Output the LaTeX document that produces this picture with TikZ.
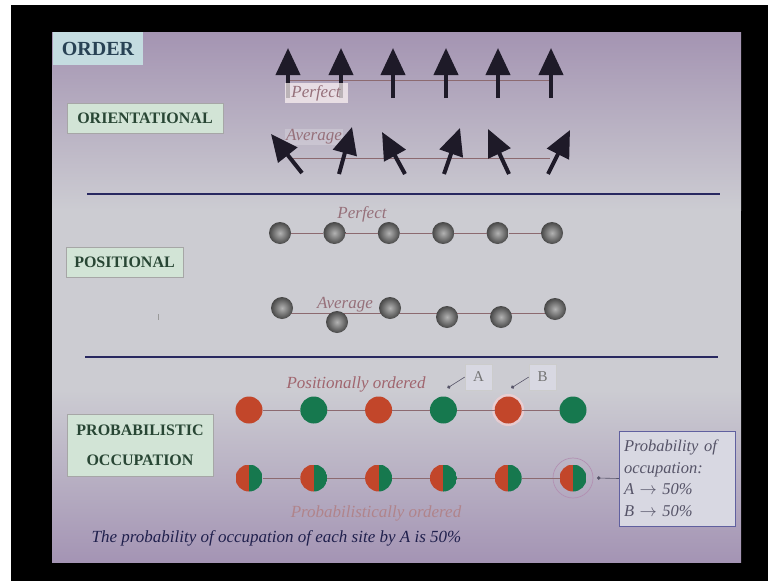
\documentclass[tikz,border=0pt]{standalone}
\usepackage{fontspec}
\setmainfont{Liberation Serif}
\usetikzlibrary{arrows.meta,positioning,calc}
\definecolor{slidetop}{RGB}{164,148,178}
\definecolor{slidemid}{RGB}{204,204,210}
\definecolor{slidebot}{RGB}{164,148,180}
\definecolor{tagfill}{RGB}{210,228,214}
\definecolor{tagtext}{RGB}{40,70,52}
\definecolor{ordfill}{RGB}{196,220,224}
\definecolor{ordtext}{RGB}{40,66,84}
\definecolor{spincol}{RGB}{30,26,40}
\definecolor{bondcol}{RGB}{140,106,112}
\definecolor{rulecol}{RGB}{40,40,96}
\definecolor{labcol}{RGB}{150,112,122}
\definecolor{redA}{RGB}{194,70,42}
\definecolor{greenB}{RGB}{22,120,78}
\definecolor{notecol}{RGB}{86,84,104}
\definecolor{notefill}{RGB}{216,216,226}
\tikzstyle{ordbox} = [rectangle, fill=ordfill, text=ordtext, font=\bfseries\fontsize{20}{24}\selectfont,
    minimum width=90pt, minimum height=33pt, inner sep=0pt]
\tikzstyle{tag} = [rectangle, draw=gray!70, fill=tagfill, text=tagtext, align=center,
    font=\bfseries\fontsize{16}{19}\selectfont, inner sep=0pt]
\tikzstyle{spin} = [draw=spincol, line width=4pt, -{Triangle[length=27pt,width=24pt]}]
\tikzstyle{bond} = [draw=bondcol, line width=0.9pt]
\tikzstyle{rule} = [draw=rulecol, line width=2.6pt]
\tikzstyle{caption} = [font=\itshape\fontsize{17}{20}\selectfont, text=labcol, inner sep=1pt]
\tikzstyle{ball} = [circle, minimum size=22pt, inner sep=0pt, outer sep=0pt,
    shading=radial, inner color=black!30, outer color=black!72]
\tikzstyle{site} = [circle, minimum size=27pt, inner sep=0pt, outer sep=0pt]
\tikzstyle{redsite} = [site, fill=redA]
\tikzstyle{greensite} = [site, fill=greenB]
\tikzstyle{mixsite} = [site, path picture={
    \fill[redA] (path picture bounding box.south west) rectangle (path picture bounding box.north);
    \fill[greenB] (path picture bounding box.south) rectangle (path picture bounding box.north east);}]
\tikzstyle{letter} = [rectangle, draw=gray!40, fill=notefill, text=gray!90!black,
    font=\fontsize{15}{18}\selectfont, minimum width=27pt, minimum height=26pt, inner sep=0pt]
\tikzstyle{leader} = [draw=notecol, line width=0.6pt]
\tikzstyle{note} = [rectangle, draw=gray!75!blue, fill=notefill, text=notecol, align=left,
    font=\itshape\fontsize{16.5}{21.5}\selectfont, minimum width=116pt, minimum height=95pt,
    text width=106pt, inner sep=0pt]
\begin{document}
\begin{tikzpicture}[x=1pt, y=-1pt]
        % Frame and slide
        \useasboundingbox (0,0) rectangle (768,581);
        \fill[white] (0,0) rectangle (768,581);
        \fill[black] (11,5) rectangle (768,581);
        \shade[top color=slidetop, bottom color=slidemid] (52,32) rectangle (741,210);
        \fill[slidemid] (52,209) rectangle (741,391);
        \shade[top color=slidemid, bottom color=slidebot] (52,390) rectangle (741,562);
        \path [rule] (87,194) -- (720,194);
        \path [rule] (85,357) -- (718,357);
        % Place nodes
        \node [ordbox] (order) at (98,48.5) {ORDER};
        \node [tag, minimum width=156pt, minimum height=30pt] (orient) at (145,118) {ORIENTATIONAL};
        \node [tag, minimum width=117pt, minimum height=30pt] (posit) at (124.5,262) {POSITIONAL};
        \node [tag, minimum width=146pt, minimum height=62pt] (prob) at (140,445) {PROBABILISTIC\\[11pt]OCCUPATION};
        % Orientational order
        \path [bond] (288,80) -- (551,80);
        \path [spin] (288,98) -- (288,48);
        \path [spin] (341,98) -- (341,48);
        \path [spin] (393,98) -- (393,48);
        \path [spin] (446,98) -- (446,48);
        \path [spin] (498,98) -- (498,48);
        \path [spin] (551,98) -- (551,48);
        \node [caption, fill=white!85!pink, fill opacity=0.7, text opacity=1,
            minimum width=63pt, minimum height=20pt] (perfA) at (316,93) {Perfect};
        \path [bond] (293,158) -- (550,158);
        \node [caption, fill=white, fill opacity=0.2, text opacity=1] (avgA) at (314,137) {Average};
        \path [spin] (302,173) -- (271,134);
        \path [spin] (339,174) -- (352,127);
        \path [spin] (405,174) -- (382,132);
        \path [spin] (444,174) -- (460,128);
        \path [spin] (509,174) -- (488,129);
        \path [spin] (548,174) -- (570,130);
        % Positional order
        \node [caption] (perfB) at (362,214) {Perfect};
        \node [ball] (pa1) at (280,233) {};
        \node [ball, right=32.4pt of pa1] (pa2) {};
        \node [ball, right=32.4pt of pa2] (pa3) {};
        \node [ball, right=32.4pt of pa3] (pa4) {};
        \node [ball, right=32.4pt of pa4] (pa5) {};
        \node [ball, right=32.4pt of pa5] (pa6) {};
        \path [bond] (pa1) -- (pa2);
        \path [bond] (pa2) -- (pa3);
        \path [bond] (pa3) -- (pa4);
        \path [bond] (pa4) -- (pa5);
        \path [bond] (pa5) -- (pa6);
        \path [bond] (282,313) -- (555,313);
        \node [caption] (avgB) at (345,305) {Average};
        \node [ball] (pb1) at (282,308) {};
        \node [ball] (pb2) at (337,322) {};
        \node [ball] (pb3) at (390,308) {};
        \node [ball] (pb4) at (447,317) {};
        \node [ball] (pb5) at (501,317) {};
        \node [ball] (pb6) at (555,309) {};
        \path [draw=gray!80, line width=0.6pt] (158,314) -- (158,320);
        % Probabilistic occupation
        \node [caption, text=labcol!90!red] (posord) at (356,384) {Positionally ordered};
        \node [redsite] (sa1) at (249,410) {};
        \node [greensite, right=37.8pt of sa1] (sa2) {};
        \node [redsite, right=37.8pt of sa2] (sa3) {};
        \node [greensite, right=37.8pt of sa3] (sa4) {};
        \node [redsite, right=37.8pt of sa4,
            preaction={draw=pink!70!white, line width=5pt, opacity=0.6}] (sa5) {};
        \node [greensite, right=37.8pt of sa5] (sa6) {};
        \node [mixsite] (sb1) at (249,478) {};
        \node [mixsite, right=37.8pt of sb1] (sb2) {};
        \node [mixsite, right=37.8pt of sb2] (sb3) {};
        \node [mixsite, right=37.8pt of sb3] (sb4) {};
        \node [mixsite, right=37.8pt of sb4] (sb5) {};
        \node [mixsite, right=37.8pt of sb5] (sb6) {};
        \draw [draw=gray!55!violet!60, line width=0.7pt] (sb6) circle (20pt);
        \node [letter] (tagA) at (478.5,377) {A};
        \node [letter] (tagB) at (542.5,377) {B};
        \node [note] (note) at (677,478.5) {Probability of\\occupation:\\A $\rightarrow$ 50\%\\B $\rightarrow$ 50\%};
        \node [caption, text=labcol!75!pink] (probord) at (376,513) {Probabilistically ordered};
        \node [caption, text=rulecol!80!black] (summary) at (276.5,538)
            {The probability of occupation of each site by A is 50\%};
        \coordinate (dotA) at ($(sa4)+(4,-22)$);
        \coordinate (dotB) at ($(sa5)+(3,-22)$);
        \coordinate (dotN) at ($(sb6)+(24,0)$);
        % Draw edges
        \path [bond] (sa1) -- (sa2);
        \path [bond] (sa2) -- (sa3);
        \path [bond] (sa3) -- (sa4);
        \path [bond] (sa4) -- (sa5);
        \path [bond] (sa5) -- (sa6);
        \path [bond] (sb1) -- (sb2);
        \path [bond] (sb2) -- (sb3);
        \path [bond] (sb3) -- (sb4);
        \path [bond] (sb4) -- (sb5);
        \path [bond] (sb5) -- (sb6);
        \path [leader, {Circle[length=3.5pt]}-] (dotA) -- (tagA.west);
        \path [leader, {Circle[length=3.5pt]}-] (dotB) -- (tagB.west);
        \path [leader, {Circle[length=3.5pt]}-] (dotN) -- (note.west);
    \end{tikzpicture}
\end{document}
